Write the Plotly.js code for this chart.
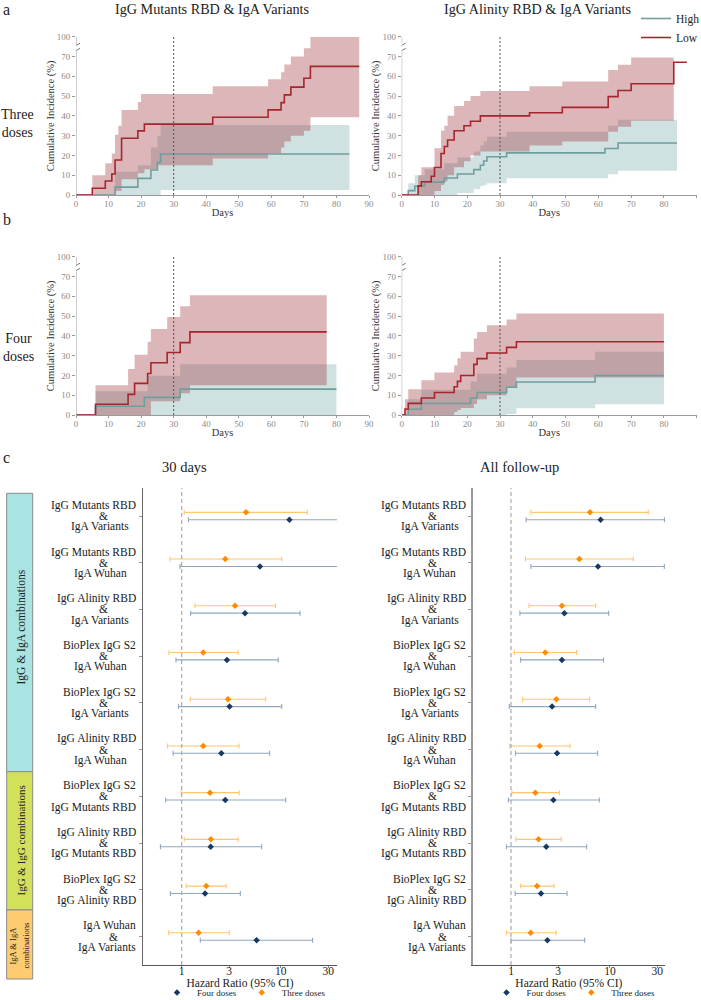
<!DOCTYPE html>
<html>
<head>
<meta charset="utf-8">
<script src="https://cdn.plot.ly/plotly-3.0.1.min.js"></script>
<style>html,body{margin:0;padding:0;background:#fff;}</style>
</head>
<body>
<div id="chart" style="width:701px;height:1000px;"></div>
<script>
// ---------------- DATA ----------------
// Kaplan-Meier style cumulative incidence (%), days
// Panel a-left: IgG Mutants RBD & IgA Variants, three doses
const a1LowT    = [0, 5, 9, 11, 12, 14, 19, 21, 42, 59, 63, 64, 66, 70, 72, 87];
const a1LowEst  = [0, 3.4, 7.1, 10.6, 17.7, 28.7, 32.4, 35.8, 39.3, 43.0, 46.7, 50.6, 54.5, 59.0, 65.0, 65.0];
const a1LowCiT  = [5, 9, 11, 12, 13, 14, 19, 20, 21, 25, 42, 59, 63, 64, 66, 70, 72, 87];
const a1LowCiUp = [10, 16, 21, 30.5, 35, 43, 47, 51, 51, 51, 55, 58.5, 62, 66, 70, 82.6, 100, 100];
const a1LowCiLo = [0, 0, 0, 2, 2, 8, 11, 11, 13, 15, 18.5, 21, 24, 27, 30, 32.5, 39.3, 39.3];
const a1HighT    = [0, 12, 19, 23, 25, 26, 84];
const a1HighEst  = [0, 4.0, 8.4, 12.6, 16.5, 20.7, 20.7];
const a1HighCiT  = [12, 19, 23, 25, 26, 84];
const a1HighCiUp = [11.8, 15, 24, 30, 35.4, 35.4];
const a1HighCiLo = [0, 0, 0, 0, 2.5, 2.5];

// Panel a-right: IgG Alinity RBD & IgA Variants, three doses
const a2LowT    = [0, 5, 6, 9, 10, 12, 13, 14, 16, 19, 21, 24, 39, 49, 63, 66, 70, 83, 87];
const a2LowEst  = [0, 4.6, 6.7, 9.5, 13.9, 21, 24.5, 27.8, 32.5, 35, 37.3, 40, 41.6, 44.3, 49.7, 52.8, 56.2, 67.1, 67.1];
const a2LowCiT  = [5, 6, 10, 12, 13, 14, 16, 19, 21, 24, 39, 49, 63, 66, 70, 83];
const a2LowCiUp = [10, 14, 23.6, 32.5, 35, 40, 45, 47.5, 50, 52.5, 55, 57.3, 63.2, 65.8, 69.5, 69.5];
const a2LowCiLo = [0, 0, 2, 5, 7, 10, 14, 17, 20, 22, 25, 27, 32, 34.5, 37.5, 37.5];
const a2HighT    = [0, 2, 4, 7, 13, 17, 22, 24, 25, 26, 32, 62, 66, 84];
const a2HighEst  = [0, 2.2, 4.4, 6.5, 8.6, 10.6, 12.8, 15, 17.2, 19.3, 21.3, 23.5, 26.3, 26.3];
const a2HighCiT  = [2, 4, 7, 13, 17, 22, 24, 25, 26, 32, 63, 66, 84];
const a2HighCiUp = [6, 10, 13, 16, 19, 22, 25, 27, 29.5, 32, 35, 38, 38];
const a2HighCiLo = [0, 0, 0, 0, 1, 3, 4.5, 5, 6, 8.5, 10.5, 12.3, 12.3];

// Panel b-left: IgG Mutants RBD & IgA Variants, four doses
const b1LowT    = [0, 6, 16, 18, 22, 23, 28, 32, 35, 77];
const b1LowEst  = [0, 5.4, 10.4, 16, 21, 26.4, 31.6, 36.6, 42, 42];
const b1LowCiT  = [6, 16, 18, 22, 23, 28, 32, 35, 77];
const b1LowCiUp = [15, 23.3, 30.5, 37, 43.5, 49.5, 55, 60.5, 60.5];
const b1LowCiLo = [0, 0, 0, 0, 7, 7, 11, 15, 15];
const b1HighT    = [0, 6, 21, 32, 80];
const b1HighEst  = [0, 4.4, 8.9, 13.1, 13.1];
const b1HighCiT  = [6, 22, 32, 80];
const b1HighCiUp = [12, 19.8, 25.7, 25.7];
const b1HighCiLo = [0, 0, 0, 0];

// Panel b-right: IgG Alinity RBD & IgA Variants, four doses
const b2LowT    = [0, 1, 2, 6, 10, 16, 17, 18, 22, 23, 26, 32, 35, 80];
const b2LowEst  = [0, 3, 5.9, 8.6, 11.4, 14.3, 17, 20, 25.6, 28.5, 31.3, 34.2, 37, 37];
const b2LowCiT  = [1, 2, 6, 10, 16, 17, 18, 22, 23, 26, 32, 35, 80];
const b2LowCiUp = [8, 13, 17.5, 21.5, 25, 28.7, 32, 38.7, 42, 45.3, 48.3, 51.3, 51.3];
const b2LowCiLo = [0, 0, 0, 0, 1.5, 2.5, 3.5, 5.5, 8, 10, 14, 19, 19];
const b2HighT    = [0, 2, 6, 21, 23, 32, 35, 59, 80];
const b2HighEst  = [0, 2.9, 5.8, 8.6, 11.4, 14, 16.7, 19.9, 19.9];
const b2HighCiT  = [2, 6, 21, 23, 32, 35, 59, 80];
const b2HighCiUp = [8, 12.8, 16.9, 20.9, 24, 27.8, 32, 32];
const b2HighCiLo = [0, 0, 0, 0, 0.5, 3.4, 5.4, 5.4];

const dayTicks = [0, 10, 20, 30, 40, 50, 60, 70, 80, 90];
const incidenceTicks = [0, 10, 20, 30, 40, 50, 60, 70, 100];
const kmTitles = ['IgG Mutants RBD & IgA Variants', 'IgG Alinity RBD & IgA Variants'];
const doseLabels = ['Three<br>doses', 'Four<br>doses'];
const groupNames = ['High', 'Low'];

// Forest plot: hazard ratios (95% CI)
const rowLabelTop = ['IgG Mutants RBD', 'IgG Mutants RBD', 'IgG Alinity RBD', 'BioPlex IgG S2', 'BioPlex IgG S2',
                     'IgG Alinity RBD', 'BioPlex IgG S2', 'IgG Alinity RBD', 'BioPlex IgG S2', 'IgA Wuhan'];
const rowLabelBottom = ['IgA Variants', 'IgA Wuhan', 'IgA Variants', 'IgA Wuhan', 'IgA Variants',
                        'IgA Wuhan', 'IgG Mutants RBD', 'IgG Mutants RBD', 'IgG Alinity RBD', 'IgA Variants'];

const d30ThreeHR = [4.45, 2.75, 3.45, 1.65, 2.93, 1.65, 1.93, 1.97, 1.77, 1.48];
const d30ThreeLo = [1.06, 0.76, 1.36, 0.745, 1.22, 0.72, 0.99, 1.06, 1.11, 0.74];
const d30ThreeHi = [18.5, 10.2, 8.8, 3.7, 7.03, 3.78, 3.8, 3.72, 2.81, 3.02];
const d30FourHR  = [12.2, 6.15, 4.35, 2.86, 3.04, 2.51, 2.75, 1.96, 1.72, 5.7];
const d30FourLo  = [1.17, 0.96, 1.23, 0.876, 0.93, 0.82, 0.69, 0.61, 0.77, 1.54];
const d30FourHi  = [55, 55, 15.6, 9.4, 10.2, 7.7, 11.2, 6.4, 3.9, 20.9];

const allThreeHR = [6.28, 4.9, 3.27, 2.22, 2.87, 1.95, 1.76, 1.9, 1.83, 1.58];
const allThreeLo = [1.59, 1.4, 1.52, 1.08, 1.31, 0.97, 1.02, 1.12, 1.25, 0.9];
const allThreeHi = [24.4, 17.2, 7.17, 4.6, 6.23, 3.95, 3.08, 3.22, 2.72, 2.85];
const allFourHR  = [8.05, 7.57, 3.46, 3.27, 2.6, 2.92, 2.68, 2.27, 2.01, 2.33];
const allFourLo  = [1.42, 1.59, 1.23, 1.25, 0.96, 1.11, 0.94, 0.9, 1.1, 1.0];
const allFourHi  = [35.5, 35.4, 9.7, 8.6, 7.17, 7.5, 7.8, 5.81, 3.68, 5.55];

const hrTicks = [1, 3, 10, 30];
const forestTitles = ['30 days', 'All follow-up'];
const doseSeries = ['Four doses', 'Three doses'];
const comboGroups = ['IgG & IgA combinations', 'IgG & IgG combinations', 'IgA & IgA', 'combinations'];

// ---------------- BUILD ----------------
const FONT = 'Liberation Serif, Times New Roman, Times, serif';
const W = 701, H = 1000;
const px = v => v / W;
const py = v => 1 - v / H;
// compress the 70–100 part of the axis (axis break)
const disp = v => (v <= 70 ? v : 70 + (v - 70) / 3);

const COL = {
  lowLine: '#A3272C', highLine: '#6E9F9D',
  lowFill: 'rgba(158,45,55,0.35)', highFill: 'rgba(112,165,163,0.33)',
  three: '#FF8C00', threeBar: '#FFC670', four: '#163A62', fourBar: '#8FA7C0'
};

const kmPanels = [
  {k: 1, xd: [76, 369], yd: [195, 36.7], legend: true,
   low: {t: a1LowT, est: a1LowEst, ciT: a1LowCiT, up: a1LowCiUp, lo: a1LowCiLo},
   high: {t: a1HighT, est: a1HighEst, ciT: a1HighCiT, up: a1HighCiUp, lo: a1HighCiLo}},
  {k: 2, xd: [401.7, 696.7], yd: [195, 36.7], legend: false,
   low: {t: a2LowT, est: a2LowEst, ciT: a2LowCiT, up: a2LowCiUp, lo: a2LowCiLo},
   high: {t: a2HighT, est: a2HighEst, ciT: a2HighCiT, up: a2HighCiUp, lo: a2HighCiLo}},
  {k: 3, xd: [76, 369], yd: [415, 256.7], legend: false,
   low: {t: b1LowT, est: b1LowEst, ciT: b1LowCiT, up: b1LowCiUp, lo: b1LowCiLo},
   high: {t: b1HighT, est: b1HighEst, ciT: b1HighCiT, up: b1HighCiUp, lo: b1HighCiLo}},
  {k: 4, xd: [401.7, 696.7], yd: [415, 256.7], legend: false,
   low: {t: b2LowT, est: b2LowEst, ciT: b2LowCiT, up: b2LowCiUp, lo: b2LowCiLo},
   high: {t: b2HighT, est: b2HighEst, ciT: b2HighCiT, up: b2HighCiUp, lo: b2HighCiLo}}
];

const ref = (l, k) => l + (k === 1 ? '' : k);
const key = (l, k) => l + 'axis' + (k === 1 ? '' : k);

const traces = [];
const layout = {
  width: W, height: H, margin: {l: 0, r: 0, t: 0, b: 0, pad: 0, autoexpand: false},
  paper_bgcolor: '#fff', plot_bgcolor: 'rgba(0,0,0,0)',
  font: {family: FONT, color: '#222'},
  hovermode: false, showlegend: true,
  shapes: [], annotations: []
};

function band(g, xr, yr, fill) {
  traces.push({type: 'scatter', mode: 'lines', x: g.ciT, y: g.lo.map(disp), xaxis: xr, yaxis: yr,
    line: {shape: 'hv', width: 0, color: fill}, showlegend: false, hoverinfo: 'skip'});
  traces.push({type: 'scatter', mode: 'lines', x: g.ciT, y: g.up.map(disp), xaxis: xr, yaxis: yr,
    line: {shape: 'hv', width: 0, color: fill}, fill: 'tonexty', fillcolor: fill, showlegend: false, hoverinfo: 'skip'});
}

const tickFontKM = {family: FONT, size: 9, color: '#8a8a8a'};
const titleFontKM = {family: FONT, size: 10.5, color: '#333'};

kmPanels.forEach(p => {
  const xr = ref('x', p.k), yr = ref('y', p.k);
  band(p.high, xr, yr, COL.highFill);
  band(p.low, xr, yr, COL.lowFill);
  traces.push({type: 'scatter', mode: 'lines', name: groupNames[0], x: p.high.t, y: p.high.est.map(disp),
    xaxis: xr, yaxis: yr, line: {shape: 'hv', width: 1.6, color: COL.highLine},
    showlegend: p.legend, legend: 'legend', legendrank: 1});
  traces.push({type: 'scatter', mode: 'lines', name: groupNames[1], x: p.low.t, y: p.low.est.map(disp),
    xaxis: xr, yaxis: yr, line: {shape: 'hv', width: 1.6, color: COL.lowLine},
    showlegend: p.legend, legend: 'legend', legendrank: 2});

  layout[key('x', p.k)] = {
    domain: [px(p.xd[0]), px(p.xd[1])], anchor: yr, range: [0, 90],
    tickmode: 'array', tickvals: dayTicks, ticktext: dayTicks.map(String),
    showline: true, linecolor: '#9a9a9a', linewidth: 1, ticks: 'outside', ticklen: 2, tickcolor: '#9a9a9a',
    ticklabelstandoff: -2,
    tickfont: tickFontKM, showgrid: false, zeroline: false, fixedrange: true,
    title: {text: 'Days', font: titleFontKM, standoff: 0}
  };
  layout[key('y', p.k)] = {
    domain: [py(p.yd[0]), py(p.yd[1])], anchor: xr, range: [0, 80],
    tickmode: 'array', tickvals: incidenceTicks.map(disp), ticktext: incidenceTicks.map(String),
    showline: false, ticks: 'outside', ticklen: 3, tickcolor: '#9a9a9a',
    tickfont: tickFontKM, showgrid: false, zeroline: false, fixedrange: true,
    title: {text: 'Cumulative Incidence (%)', font: titleFontKM, standoff: 0}
  };
  // broken y axis line
  const axLine = {color: '#9a9a9a', width: 1};
  layout.shapes.push({type: 'line', xref: xr, yref: yr, x0: 0, x1: 0, y0: 0, y1: 72.6, line: axLine});
  layout.shapes.push({type: 'line', xref: xr, yref: yr, x0: 0, x1: 0, y0: 76.4, y1: 80, line: axLine});
  layout.shapes.push({type: 'line', xref: xr, yref: yr, xsizemode: 'pixel', xanchor: 0, x0: -4, x1: 4,
    y0: 71.9, y1: 74.1, line: {color: '#777', width: 1}});
  layout.shapes.push({type: 'line', xref: xr, yref: yr, xsizemode: 'pixel', xanchor: 0, x0: -4, x1: 4,
    y0: 74.5, y1: 76.7, line: {color: '#777', width: 1}});
  // 30-day reference
  layout.shapes.push({type: 'line', xref: xr, yref: yr, x0: 30, x1: 30, y0: 0, y1: 80,
    line: {color: '#555', width: 1, dash: '2px,2px'}});
});

// titles of KM columns
layout.annotations.push({text: kmTitles[0], xref: 'paper', yref: 'paper', x: px(212), y: py(9), showarrow: false,
  xanchor: 'center', yanchor: 'middle', font: {family: FONT, size: 14.2, color: '#222'}});
layout.annotations.push({text: kmTitles[1], xref: 'paper', yref: 'paper', x: px(537.5), y: py(9), showarrow: false,
  xanchor: 'center', yanchor: 'middle', font: {family: FONT, size: 14.2, color: '#222'}});
// row labels
layout.annotations.push({text: doseLabels[0], xref: 'paper', yref: 'paper', x: px(17.5), y: py(123.5), showarrow: false,
  xanchor: 'center', yanchor: 'middle', font: {family: FONT, size: 14, color: '#222'}});
layout.annotations.push({text: doseLabels[1], xref: 'paper', yref: 'paper', x: px(18.5), y: py(347.5), showarrow: false,
  xanchor: 'center', yanchor: 'middle', font: {family: FONT, size: 14, color: '#222'}});
// panel letters
[['a', 9], ['b', 220], ['c', 458]].forEach(([t, y]) => layout.annotations.push({
  text: t, xref: 'paper', yref: 'paper', x: px(6.5), y: py(y), showarrow: false, xanchor: 'center', yanchor: 'middle',
  font: {family: FONT, size: 16, color: '#222'}}));

// legend High/Low
layout.legend = {x: px(636), y: py(4), xanchor: 'left', yanchor: 'top', bgcolor: 'rgba(0,0,0,0)',
  font: {family: FONT, size: 11.5, color: '#222'}, tracegroupgap: 0, itemwidth: 30, traceorder: 'normal'};

// ---------------- FOREST ----------------
const rows = rowLabelTop.map((_, i) => i);
const forests = [
  {k: 5, xd: [143, 337], xr: [-0.39, 1.566], off: 0, legend: 'legend2', lineColor: '#666', lineW: 1.2,
   three: {hr: d30ThreeHR, lo: d30ThreeLo, hi: d30ThreeHi}, four: {hr: d30FourHR, lo: d30FourLo, hi: d30FourHi},
   title: forestTitles[0], tx: 185, lx: 244},
  {k: 6, xd: [472.7, 665], xr: [-0.387, 1.556], off: 329.7, legend: 'legend3', lineColor: '#9c9c9c', lineW: 2,
   three: {hr: allThreeHR, lo: allThreeLo, hi: allThreeHi}, four: {hr: allFourHR, lo: allFourLo, hi: allFourHi},
   title: forestTitles[1], tx: 519, lx: 573.5}
];
const rowShift = 0.079;
forests.forEach(f => {
  const xr = ref('x', f.k), yr = ref('y', f.k);
  traces.push({type: 'scatter', mode: 'markers', name: doseSeries[1], legend: f.legend, legendrank: 2,
    x: f.three.hr, y: rows.map(i => i - rowShift), xaxis: xr, yaxis: yr,
    marker: {symbol: 'diamond', size: 5, color: COL.three},
    error_x: {type: 'data', symmetric: false, array: f.three.hi.map((h, i) => h - f.three.hr[i]),
      arrayminus: f.three.hr.map((v, i) => v - f.three.lo[i]), color: COL.threeBar, thickness: 1.1, width: 2.5}});
  traces.push({type: 'scatter', mode: 'markers', name: doseSeries[0], legend: f.legend, legendrank: 1,
    x: f.four.hr, y: rows.map(i => i + rowShift), xaxis: xr, yaxis: yr,
    marker: {symbol: 'diamond', size: 5, color: COL.four},
    error_x: {type: 'data', symmetric: false, array: f.four.hi.map((h, i) => h - f.four.hr[i]),
      arrayminus: f.four.hr.map((v, i) => v - f.four.lo[i]), color: COL.fourBar, thickness: 1.1, width: 2.5}});

  layout[key('x', f.k)] = {
    domain: [px(f.xd[0]), px(f.xd[1])], anchor: yr, type: 'log', range: f.xr,
    tickmode: 'array', tickvals: hrTicks, ticktext: hrTicks.map(String),
    showline: true, linecolor: '#555', linewidth: 1.2, ticks: 'outside', ticklen: 2, tickcolor: '#888',
    ticklabelstandoff: -7,
    tickfont: {family: FONT, size: 11.5, color: '#222'}, showgrid: false, zeroline: false, fixedrange: true,
    title: {text: 'Hazard Ratio (95% CI)', font: {family: FONT, size: 11.5, color: '#222'}, standoff: 0}
  };
  layout[key('y', f.k)] = {
    domain: [py(965), py(488)], anchor: xr, range: [9.61, -0.6],
    tickmode: 'array', tickvals: rows, showticklabels: false, ticks: 'outside', ticklen: 3, tickcolor: '#999',
    showline: true, linecolor: f.lineColor, linewidth: f.lineW, showgrid: false, zeroline: false, fixedrange: true
  };
  layout.shapes.push({type: 'line', xref: xr, yref: yr + ' domain', x0: 1, x1: 1, y0: 0, y1: 1,
    line: {color: '#aaa', width: 1.2, dash: '4px,3px'}});
  layout.annotations.push({text: f.title, xref: 'paper', yref: 'paper', x: px(f.tx), y: py(466.7), showarrow: false,
    xanchor: 'center', yanchor: 'middle', font: {family: FONT, size: 14.5, color: '#222'}});
  layout[f.legend] = {orientation: 'h', x: px(f.lx), y: py(992.5), xanchor: 'center', yanchor: 'middle',
    font: {family: FONT, size: 9, color: '#222'}, bgcolor: 'rgba(0,0,0,0)', itemwidth: 30, traceorder: 'normal'};
  // row labels (three lines each)
  const lf = {family: FONT, size: 11.5, color: '#1a1a1a'};
  rows.forEach(i => {
    layout.annotations.push({text: rowLabelTop[i], xref: 'paper', yref: yr, x: px(138 + f.off), y: i, yshift: 10.7,
      xanchor: 'right', yanchor: 'middle', showarrow: false, font: lf});
    layout.annotations.push({text: '&amp;', xref: 'paper', yref: yr, x: px((i === 9 ? 113 : 103) + f.off), y: i,
      xanchor: 'center', yanchor: 'middle', showarrow: false, font: lf});
    layout.annotations.push({text: rowLabelBottom[i], xref: 'paper', yref: yr,
      x: px((i <= 5 ? 100 : 138) + f.off), y: i, yshift: -10.7,
      xanchor: i <= 5 ? 'center' : 'right', yanchor: 'middle', showarrow: false, font: lf});
  });
});

// group boxes
const boxes = [[493.3, 771.7, '#A9E3E2'], [771.7, 910, '#D2E05C'], [910, 979, '#FFCB70']];
boxes.forEach(b => layout.shapes.push({type: 'rect', xref: 'paper', yref: 'paper', x0: px(6.7), x1: px(32.7),
  y0: py(b[1]), y1: py(b[0]), fillcolor: b[2], line: {color: '#8a8a8a', width: 1}, layer: 'below'}));
layout.annotations.push({text: comboGroups[0], xref: 'paper', yref: 'paper', x: px(20.5), y: py(627), textangle: -90,
  showarrow: false, xanchor: 'center', yanchor: 'middle', font: {family: FONT, size: 11.5, color: '#222'}});
layout.annotations.push({text: comboGroups[1], xref: 'paper', yref: 'paper', x: px(20.5), y: py(841), textangle: -90,
  showarrow: false, xanchor: 'center', yanchor: 'middle', font: {family: FONT, size: 11, color: '#222'}});
layout.annotations.push({text: comboGroups[2], xref: 'paper', yref: 'paper', x: px(12.5), y: py(946), textangle: -90,
  showarrow: false, xanchor: 'center', yanchor: 'middle', font: {family: FONT, size: 8.5, color: '#222'}});
layout.annotations.push({text: comboGroups[3], xref: 'paper', yref: 'paper', x: px(25.5), y: py(946), textangle: -90,
  showarrow: false, xanchor: 'center', yanchor: 'middle', font: {family: FONT, size: 8.5, color: '#222'}});

Plotly.newPlot('chart', traces, layout, {displayModeBar: false, staticPlot: true});
</script>
</body>
</html>
